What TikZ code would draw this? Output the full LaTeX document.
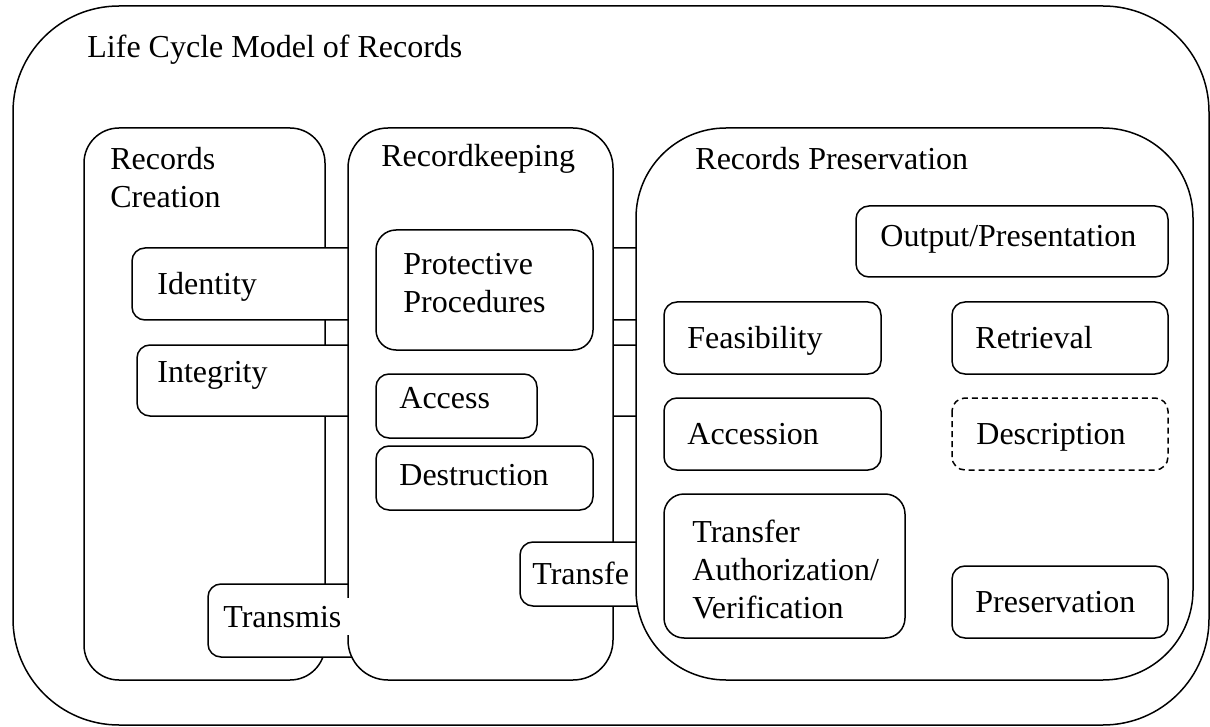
\documentclass[tikz,border=0pt]{standalone}
\usepackage{fontspec}
\setmainfont{Liberation Serif}

\begin{document}
\begin{tikzpicture}[x = 0.5pt, y = -0.5pt]
\tikzstyle{PanelStyle}=[draw, line width = 0.75pt, fill = white]
\tikzstyle{BoxStyle}=[draw, line width = 0.75pt, fill = white,
                      rounded corners = 6.5pt]
\tikzstyle{LabelStyle}=[anchor = base west, inner sep = 0pt, align = left,
                        font = \fontsize{16}{19}\selectfont]
\useasboundingbox (0,0) rectangle (1210,727);
% outer frame
\draw[PanelStyle, fill = none, rounded corners = 53pt] (13,6) rectangle (1209,725);
\node[LabelStyle] (title) at (87,58) {Life Cycle Model of Records};
% records creation (multi-line labels sit on their last baseline)
\draw[PanelStyle, rounded corners = 17.5pt] (84,128) rectangle (325,680);
\node[LabelStyle] (creation) at (110,208) {Records\\Creation};
\draw[BoxStyle] (132,248) rectangle (700,320);
\node[LabelStyle] (identity) at (157,295) {Identity};
\draw[BoxStyle] (137,345) rectangle (700,416);
\node[LabelStyle] (integrity) at (157,382) {Integrity};
\draw[BoxStyle] (208,584) rectangle (420,657);
% recordkeeping
\draw[PanelStyle, rounded corners = 20pt] (348,128) rectangle (613,680);
\node[LabelStyle] (keeping) at (381,167) {Recordkeeping};
\node[LabelStyle, fill = white, inner xsep = 4pt, inner ysep = 4pt] (transmis) at (215,627) {Transmis};
\draw[BoxStyle, rounded corners = 10pt] (376,230) rectangle (593,350);
\node[LabelStyle] (protective) at (403,313) {Protective\\Procedures};
\draw[BoxStyle] (376,374) rectangle (537,438);
\node[LabelStyle] (access) at (399,408) {Access};
\draw[BoxStyle] (376,446) rectangle (593,510);
\node[LabelStyle] (destruction) at (399,485) {Destruction};
\draw[BoxStyle] (520,542) rectangle (700,606);
\node[LabelStyle] (transfe) at (532,584) {Transfe};
% records preservation
\draw[PanelStyle, rounded corners = 45pt] (636,128) rectangle (1193,680);
\node[LabelStyle] (preservation) at (695,170) {Records Preservation};
\draw[BoxStyle] (856,206) rectangle (1168,277);
\node[LabelStyle] (output) at (880,247) {Output/Presentation};
\draw[BoxStyle] (664,302) rectangle (881,374);
\node[LabelStyle] (feasibility) at (687,349) {Feasibility};
\draw[BoxStyle] (952,302) rectangle (1168,374);
\node[LabelStyle] (retrieval) at (975,349) {Retrieval};
\draw[BoxStyle] (664,398) rectangle (881,470);
\node[LabelStyle] (accession) at (687,444) {Accession};
\draw[BoxStyle, dash pattern = on 3pt off 2pt] (952,398) rectangle (1168,470);
\node[LabelStyle] (description) at (976,444) {Description};
\draw[BoxStyle, rounded corners = 10pt] (664,494) rectangle (905,638);
\node[LabelStyle] (transfer) at (692,618) {Transfer\\Authorization/\\Verification};
\draw[BoxStyle] (952,566) rectangle (1168,638);
\node[LabelStyle] (keep) at (975,612) {Preservation};
\end{tikzpicture}
\end{document}
